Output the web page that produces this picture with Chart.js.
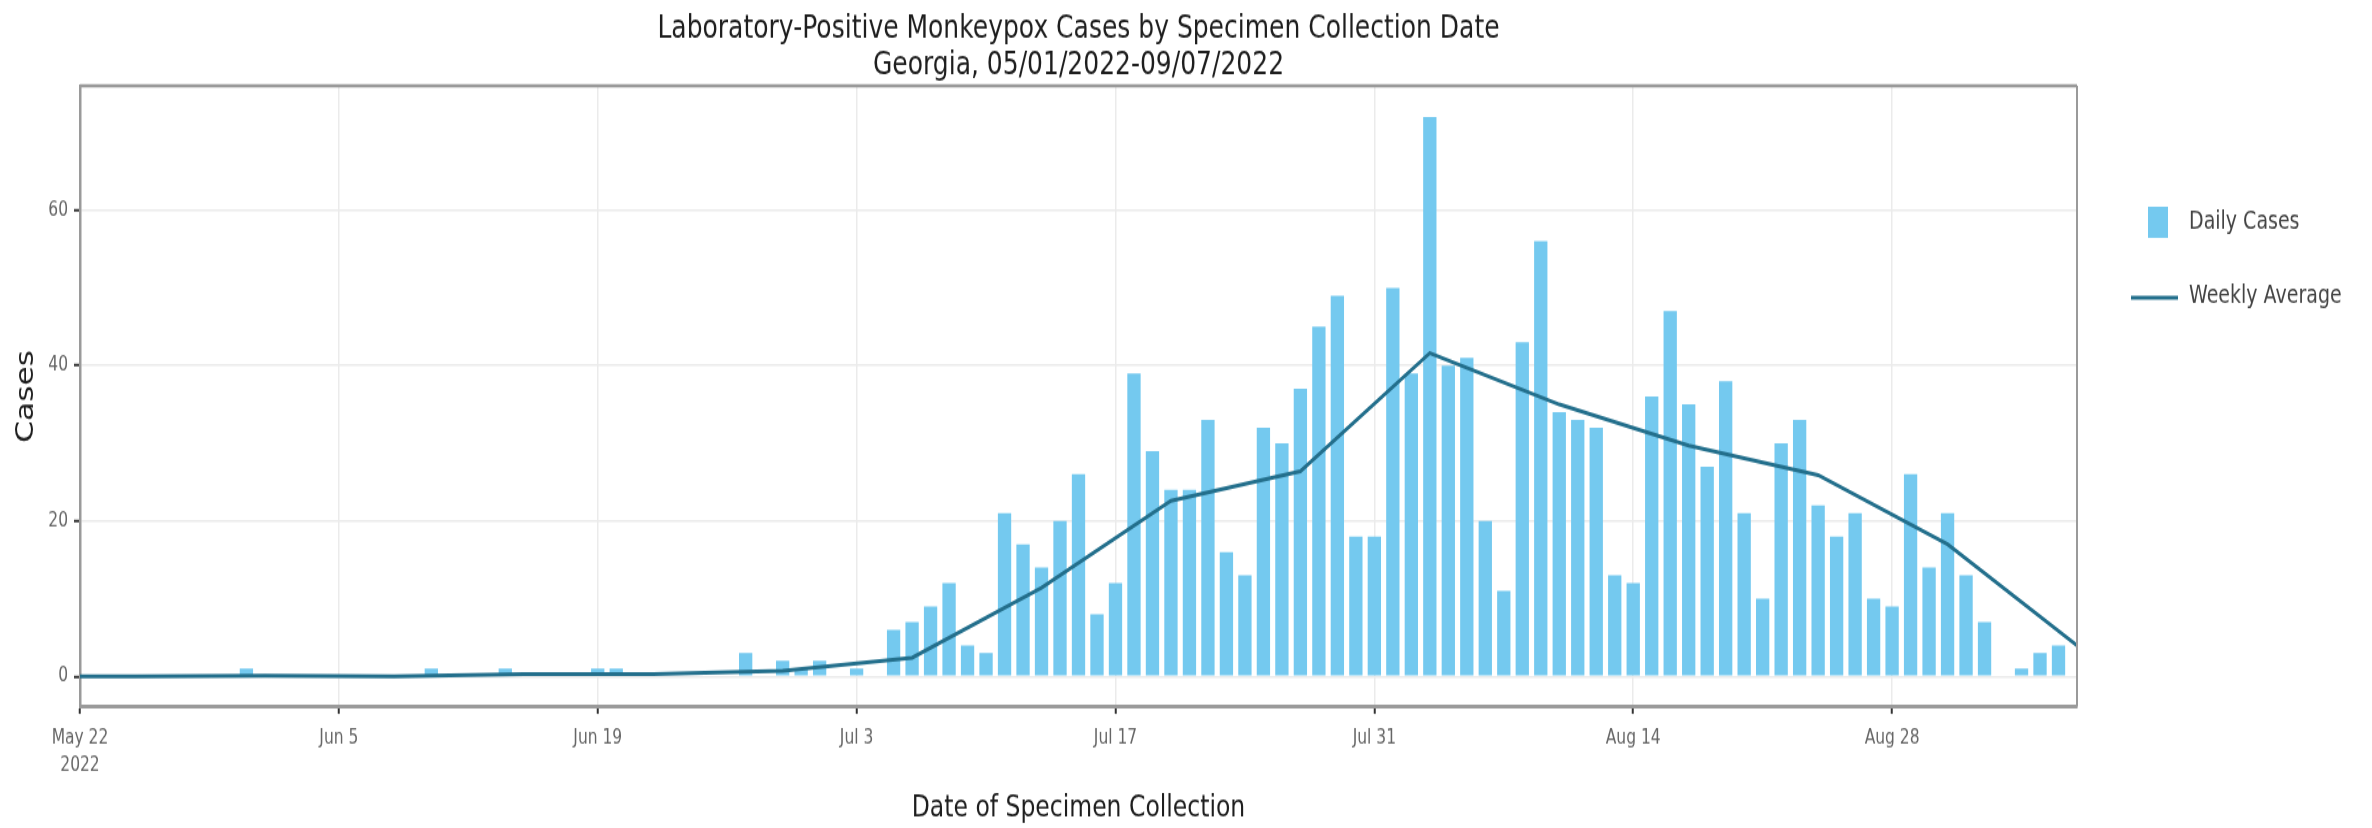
<!DOCTYPE html>
<html>
<head>
<meta charset="utf-8">
<title>Monkeypox Cases by Specimen Collection Date</title>
<script src="https://cdn.jsdelivr.net/npm/chart.js@4.4.1/dist/chart.umd.min.js"></script>
<style>
  html, body { margin: 0; padding: 0; background: #fff; width: 2372px; height: 828px; }
  /* the source picture is stretched vertically, so draw at 637px and stretch to 828px */
  #wrap { width: 2372px; height: 637px; transform: scaleY(1.3); transform-origin: 0 0; }
</style>
</head>
<body>
<div id="wrap"><canvas id="myChart"></canvas></div>
<script>
// x range of the plot
const startDate = '2022-05-22';
const endDate = '2022-09-07';

// daily cases, one value per day from May 22 to Sep 7
const dailyCases = [
  0, 0, 0, 0, 0, 0, 0, 0, 0, 1,            // May 22-31
  0, 0, 0, 0, 0, 0, 0, 0, 0, 1,            // Jun 1-10
  0, 0, 0, 1, 0, 0, 0, 0, 1, 1,            // Jun 11-20
  0, 0, 0, 0, 0, 0, 3, 0, 2, 1,            // Jun 21-30
  2, 0, 1, 0, 6, 7, 9, 12, 4, 3,           // Jul 1-10
  21, 17, 14, 20, 26, 8, 12, 39, 29, 24,   // Jul 11-20
  24, 33, 16, 13, 32, 30, 37, 45, 49, 18, 18, // Jul 21-31
  50, 39, 72, 40, 41, 20, 11, 43, 56, 34,  // Aug 1-10
  33, 32, 13, 12, 36, 47, 35, 27, 38, 21,  // Aug 11-20
  10, 30, 33, 22, 18, 21, 10, 9, 26, 14, 21, // Aug 21-31
  13, 7, 0, 1, 3, 4, 0                     // Sep 1-7
];

// weekly average, one point per week
const weekDates = [
  '2022-05-18', '2022-05-25', '2022-06-01', '2022-06-08', '2022-06-15', '2022-06-22',
  '2022-06-29', '2022-07-06', '2022-07-13', '2022-07-20', '2022-07-27', '2022-08-03',
  '2022-08-10', '2022-08-17', '2022-08-24', '2022-08-31', '2022-09-07'
];
const weeklyAvg = [0, 0, 0.1, 0, 0.3, 0.3, 0.7, 2.4, 11.4, 22.6, 26.4, 41.6, 35, 29.7, 25.9, 17, 4.0];

// axis ticks
const xTickDates = ['2022-05-22', '2022-06-05', '2022-06-19', '2022-07-03', '2022-07-17', '2022-07-31', '2022-08-14', '2022-08-28'];
const xTickLabels = [['May 22', '2022'], 'Jun 5', 'Jun 19', 'Jul 3', 'Jul 17', 'Jul 31', 'Aug 14', 'Aug 28'];
const yTicks = [0, 20, 40, 60];

const dayIndex = s => Math.round((Date.parse(s) - Date.parse(startDate)) / 86400000);

Chart.defaults.font.family = '"DejaVu Sans", sans-serif';

// top and right edges of the plot box
const plotFrame = {
  id: 'plotFrame',
  afterDraw(chart) {
    const { ctx, chartArea: a } = chart;
    ctx.save();
    ctx.strokeStyle = '#9a9a9a';
    ctx.lineWidth = 2.4;
    ctx.beginPath();
    ctx.moveTo(a.left, a.top);
    ctx.lineTo(a.right, a.top);
    ctx.stroke();
    ctx.lineWidth = 2;
    ctx.beginPath();
    ctx.moveTo(a.right, a.top);
    ctx.lineTo(a.right, a.bottom);
    ctx.stroke();
    ctx.restore();
  }
};

// legend on the right, as in the source
const sideLegend = {
  id: 'sideLegend',
  afterDraw(chart) {
    const ctx = chart.ctx;
    const [bars, line] = chart.data.datasets;
    ctx.save();
    ctx.font = '19px "DejaVu Sans"';
    ctx.textBaseline = 'middle';
    ctx.fillStyle = bars.backgroundColor;
    ctx.fillRect(2148, 159, 20, 24);
    ctx.fillStyle = '#444';
    ctx.fillText(bars.label, 2189, 171.5);
    ctx.strokeStyle = line.borderColor;
    ctx.lineWidth = 3;
    ctx.beginPath();
    ctx.moveTo(2131, 229);
    ctx.lineTo(2178, 229);
    ctx.stroke();
    ctx.fillText(line.label, 2189, 228.5);
    ctx.restore();
  }
};

const ctx = document.getElementById('myChart').getContext('2d');

new Chart(ctx, {
  type: 'bar',
  data: {
    datasets: [{
      type: 'bar',
      label: 'Daily Cases',
      data: dailyCases.map((v, i) => ({ x: i, y: v })),
      backgroundColor: '#74c9ef',
      barPercentage: 0.72,
      categoryPercentage: 1,
      order: 2,
    }, {
      type: 'line',
      label: 'Weekly Average',
      data: weekDates.map((d, i) => ({ x: dayIndex(d), y: weeklyAvg[i] })),
      borderColor: '#236f8c',
      borderWidth: 3,
      pointRadius: 0,
      tension: 0,
      order: 1,
    }],
  },
  options: {
    responsive: true,
    maintainAspectRatio: false,
    animation: false,
    layout: { padding: { left: 0, right: 295, top: 0, bottom: 0 } },
    plugins: {
      legend: { display: false },
      tooltip: { enabled: false },
      title: {
        display: true,
        fullSize: false,
        text: ['Laboratory-Positive Monkeypox Cases by Specimen Collection Date', 'Georgia, 05/01/2022-09/07/2022'],
        color: '#1e1e1e',
        font: { size: 25, weight: 'normal', lineHeight: 1.14 },
        padding: { top: 8, bottom: 1 },
      },
    },
    scales: {
      x: {
        type: 'linear',
        offset: false,
        min: 0,
        max: dayIndex(endDate),
        afterBuildTicks: s => { s.ticks = xTickDates.map(d => ({ value: dayIndex(d) })); },
        afterFit: s => { s.height = 93.4; },
        ticks: {
          autoSkip: false,
          maxRotation: 0,
          padding: 8,
          color: '#666',
          font: { size: 15.5, lineHeight: 1.35 },
          callback: (v, i) => xTickLabels[i],
        },
        grid: { offset: false, color: '#ebebeb', lineWidth: 1.5, tickColor: '#333', tickLength: 5.5, tickWidth: 2 },
        border: { color: '#9a9a9a', width: 3 },
        title: {
          display: true,
          text: 'Date of Specimen Collection',
          color: '#1e1e1e',
          font: { size: 23.5 },
          padding: { top: 0, bottom: 1 },
        },
      },
      y: {
        min: -3.9,
        max: 76,
        afterBuildTicks: s => { s.ticks = yTicks.map(v => ({ value: v })); },
        afterFit: s => { s.width = 80; },
        ticks: { color: '#666', padding: 6, font: { size: 15.5 } },
        grid: { color: '#ebebeb', lineWidth: 1.5, tickColor: '#333', tickLength: 6, tickWidth: 2 },
        border: { color: '#9a9a9a', width: 2.5 },
        title: {
          display: true,
          text: 'Cases',
          color: '#1e1e1e',
          font: { size: 24 },
          padding: { top: 12, bottom: 0 },
        },
      },
    },
  },
  plugins: [plotFrame, sideLegend],
});
</script>
</body>
</html>
